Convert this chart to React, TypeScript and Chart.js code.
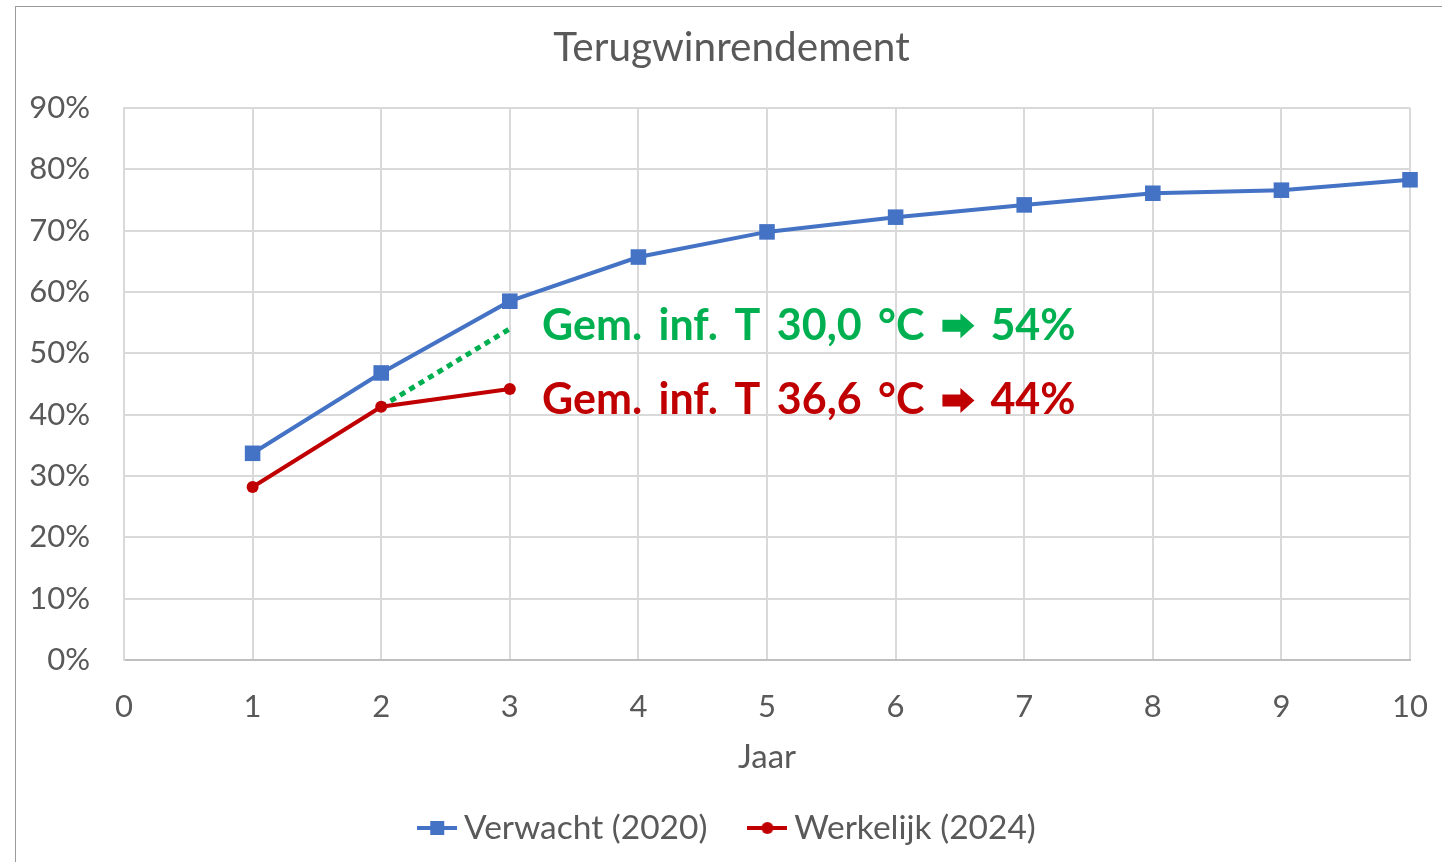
import React, { useEffect, useRef } from "react";
import { Chart, registerables } from "chart.js";

Chart.register(...registerables);

// ---- data ----
const chartTitle = "Terugwinrendement";
const xAxisTitle = "Jaar";
const seriesNames = ["Verwacht (2020)", "Werkelijk (2024)"];
const verwachtYears = [1, 2, 3, 4, 5, 6, 7, 8, 9, 10];
const verwachtValues = [0.337, 0.468, 0.585, 0.657, 0.698, 0.722, 0.742, 0.761, 0.766, 0.783];
const werkelijkYears = [1, 2, 3];
const werkelijkValues = [0.282, 0.413, 0.442];
const trendYears = [2, 3];
const trendValues = [0.413, 0.54];
const annotationTexts = ["Gem. inf. T 30,0 °C", "Gem. inf. T 36,6 °C"];
const annotationResults = ["54%", "44%"];
const annotationAnchorX = [3.25, 3.25];
const annotationAnchorY = [0.545, 0.423];

const BLUE = "#4472C4";
const RED = "#C00000";
const GREEN = "#00B050";
const TEXT = "#595959";
const GRID = "#D9D9D9";
const FONT = "Lato";

function legendImage(color: string, kind: "rect" | "circle") {
  const c = document.createElement("canvas");
  c.width = 40;
  c.height = 20;
  const ctx = c.getContext("2d")!;
  ctx.strokeStyle = color;
  ctx.lineWidth = 4;
  ctx.beginPath();
  ctx.moveTo(0, 10);
  ctx.lineTo(40, 10);
  ctx.stroke();
  ctx.fillStyle = color;
  if (kind === "rect") {
    ctx.fillRect(13, 3, 14, 14);
  } else {
    ctx.beginPath();
    ctx.arc(20, 10, 6, 0, Math.PI * 2);
    ctx.fill();
  }
  return c;
}

const annotationPlugin = {
  id: "annots",
  afterDatasetsDraw(chart: any) {
    const { ctx, scales } = chart;
    const colors = [GREEN, RED];
    ctx.save();
    ctx.font = `bold 43px ${FONT}`;
    ctx.textBaseline = "middle";
    ctx.textAlign = "left";
    (ctx as any).wordSpacing = "6px";
    annotationTexts.forEach((t, i) => {
      const x = scales.x.getPixelForValue(annotationAnchorX[i]);
      const y = scales.y.getPixelForValue(annotationAnchorY[i]);
      ctx.fillStyle = colors[i];
      ctx.fillText(t, x, y);
      const w = ctx.measureText(t).width;
      // block arrow
      const ax = x + w + 18;
      const aw = 32;
      const ah = 25;
      const sh = 12;
      const headW = 14;
      ctx.beginPath();
      ctx.moveTo(ax, y - sh / 2);
      ctx.lineTo(ax + aw - headW, y - sh / 2);
      ctx.lineTo(ax + aw - headW, y - ah / 2);
      ctx.lineTo(ax + aw, y);
      ctx.lineTo(ax + aw - headW, y + ah / 2);
      ctx.lineTo(ax + aw - headW, y + sh / 2);
      ctx.lineTo(ax, y + sh / 2);
      ctx.closePath();
      ctx.fill();
      ctx.fillText(annotationResults[i], ax + aw + 16, y);
    });
    ctx.restore();
  },
};

export default function App() {
  const ref = useRef<HTMLCanvasElement | null>(null);

  useEffect(() => {
    if (!ref.current) return;
    const imgs = [legendImage(BLUE, "rect"), legendImage(RED, "circle")];
    const chart = new Chart(ref.current, {
      type: "line",
      data: {
        datasets: [
          {
            label: seriesNames[0],
            data: verwachtYears.map((x, i) => ({ x, y: verwachtValues[i] })),
            borderColor: BLUE,
            backgroundColor: BLUE,
            borderWidth: 4,
            pointStyle: "rect",
            pointRadius: 11,
            pointBorderWidth: 0,
            clip: false,
          },
          {
            label: seriesNames[1],
            data: werkelijkYears.map((x, i) => ({ x, y: werkelijkValues[i] })),
            borderColor: RED,
            backgroundColor: RED,
            borderWidth: 4,
            pointStyle: "circle",
            pointRadius: 6,
            pointBorderWidth: 0,
            clip: false,
          },
          {
            label: "trend",
            data: trendYears.map((x, i) => ({ x, y: trendValues[i] })),
            borderColor: GREEN,
            backgroundColor: GREEN,
            borderWidth: 5,
            borderDash: [6, 5],
            pointRadius: 0,
          },
        ],
      },
      options: {
        responsive: false,
        animation: false,
        layout: { padding: { left: 0, right: -21, top: 0, bottom: 7.25 } },
        plugins: {
          tooltip: { enabled: false },
          title: {
            display: true,
            text: chartTitle,
            color: TEXT,
            font: { family: FONT, size: 40.5, weight: "normal" },
            padding: { top: 23.7, bottom: 35.7 },
          },
          legend: {
            position: "bottom",
            labels: {
              color: TEXT,
              font: { family: FONT, size: 33.5 },
              usePointStyle: true,
              pointStyleWidth: 20,
              padding: 50,
              filter: (item: any) => item.datasetIndex < 2,
              generateLabels: (c: any) => {
                const items = Chart.defaults.plugins.legend.labels.generateLabels(c);
                return items.map((it: any) => ({
                  ...it,
                  pointStyle: imgs[it.datasetIndex] ?? it.pointStyle,
                  lineDash: [],
                }));
              },
            },
          },
        },
        scales: {
          x: {
            type: "linear",
            min: 0,
            max: 10,
            afterFit: (s: any) => {
              s.height = 101.25;
            },
            ticks: {
              stepSize: 1,
              color: TEXT,
              font: { family: FONT, size: 31 },
              padding: 14,
            },
            grid: { color: GRID, lineWidth: 2, drawTicks: true, tickLength: 14, tickColor: "rgba(0,0,0,0)" },
            border: { color: "#BFBFBF", width: 2 },
            title: {
              display: true,
              text: xAxisTitle,
              color: TEXT,
              font: { family: FONT, size: 33 },
              padding: { top: 0, bottom: -15.5 },
            },
          },
          y: {
            min: 0,
            max: 0.9,
            afterFit: (s: any) => {
              s.width = 124;
            },
            ticks: {
              stepSize: 0.1,
              color: TEXT,
              font: { family: FONT, size: 31 },
              padding: 34,
              callback: (v: any) => Math.round(Number(v) * 100) + "%",
            },
            grid: { color: GRID, lineWidth: 2, drawTicks: false },
            border: { color: GRID, width: 2 },
          },
        },
      },
      plugins: [annotationPlugin],
    });
    return () => chart.destroy();
  }, []);

  return (
    <div style={{ position: "absolute", left: 0, top: 0, width: 1442, height: 862, background: "#fff", overflow: "hidden" }}>
      <div
        style={{
          position: "absolute",
          left: 15,
          top: 6,
          width: 1500,
          height: 1000,
          borderLeft: "1.5px solid #9a9a9a",
          borderTop: "1.5px solid #9a9a9a",
        }}
      />
      <canvas ref={ref} width={1442} height={862} style={{ position: "absolute", left: 0, top: 0 }} />
    </div>
  );
}
